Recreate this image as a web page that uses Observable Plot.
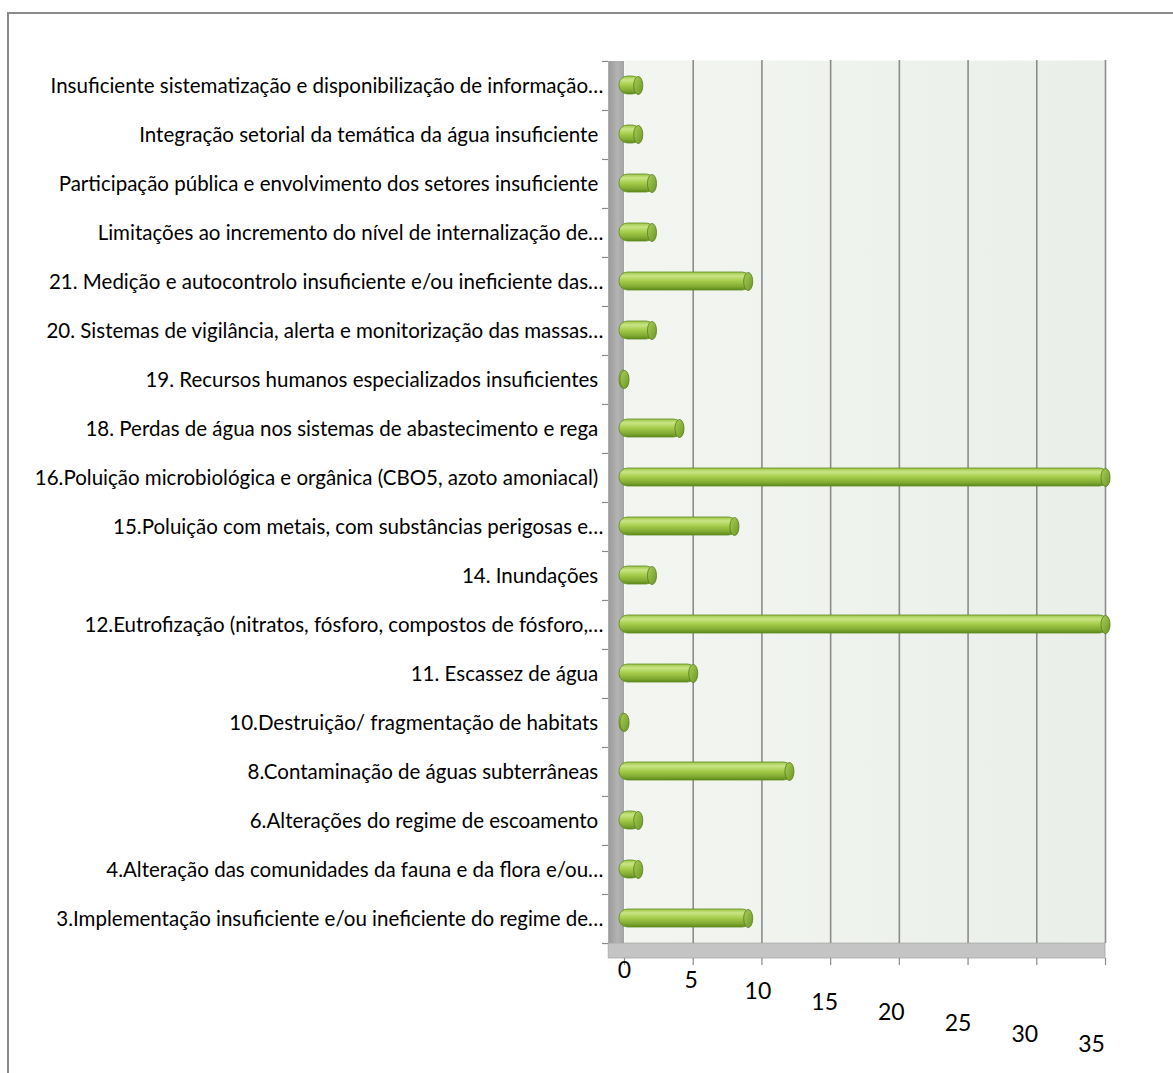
<!DOCTYPE html>
<html>
<head>
<meta charset="utf-8">
<script src="https://cdn.jsdelivr.net/npm/d3@7"></script>
<script src="https://cdn.jsdelivr.net/npm/@observablehq/plot@0.6"></script>
<style>
  html, body { margin: 0; padding: 0; background: #fff; }
  #wrap { position: relative; width: 1173px; height: 1073px; overflow: hidden; }
  #border { position: absolute; left: 7px; top: 12px; width: 1300px; height: 1200px;
            border-left: 2px solid #8a8a8a; border-top: 2px solid #8a8a8a; }
  #chart { position: absolute; left: 0; top: 0; }
  #chart svg text { white-space: pre; }
</style>
</head>
<body>
<div id="wrap">
  <div id="border"></div>
  <div id="chart"></div>
</div>
<script>
const categories = [
  "Insuficiente sistematização e disponibilização de informação…",
  "Integração setorial da temática da água insuficiente ",
  "Participação pública e envolvimento dos setores insuficiente ",
  "Limitações ao incremento do nível de internalização de…",
  "21. Medição e autocontrolo insuficiente e/ou ineficiente das…",
  "20. Sistemas de vigilância, alerta e monitorização das massas…",
  "19. Recursos humanos especializados insuficientes ",
  "18. Perdas de água nos sistemas de abastecimento e rega ",
  "16.Poluição microbiológica e orgânica (CBO5, azoto amoniacal) ",
  "15.Poluição com metais, com substâncias perigosas e…",
  "14. Inundações ",
  "12.Eutrofização (nitratos, fósforo, compostos de fósforo,…",
  "11. Escassez de água ",
  "10.Destruição/ fragmentação de habitats ",
  "8.Contaminação de águas subterrâneas ",
  "6.Alterações do regime de escoamento ",
  "4.Alteração das comunidades da fauna e da flora e/ou…",
  "3.Implementação insuficiente e/ou ineficiente do regime de…"
];
const values = [1, 1, 2, 2, 9, 2, 0, 4, 35, 8, 2, 35, 5, 0, 12, 1, 1, 9];
const xTicks = [0, 5, 10, 15, 20, 25, 30, 35];

const data = categories.map((name, i) => ({name, value: values[i]}));
const lastCat = categories[categories.length - 1];

const marginTop = 60, marginBottom = 130;
const step = (1073 - marginTop - marginBottom) / categories.length;

const ellipse = {
  draw(ctx, size) {
    const r = Math.sqrt(size / Math.PI);
    const rx = r * 0.5, ry = r, k = 0.5523;
    ctx.moveTo(0, -ry);
    ctx.bezierCurveTo(k * rx, -ry, rx, -k * ry, rx, 0);
    ctx.bezierCurveTo(rx, k * ry, k * rx, ry, 0, ry);
    ctx.bezierCurveTo(-k * rx, ry, -rx, k * ry, -rx, 0);
    ctx.bezierCurveTo(-rx, -k * ry, -k * rx, -ry, 0, -ry);
    ctx.closePath();
  }
};

const plot = Plot.plot({
  width: 1173,
  height: 1073,
  marginTop,
  marginBottom,
  marginLeft: 624,
  marginRight: 68,
  style: {fontFamily: "Lato, 'Open Sans', sans-serif", color: "#000", background: "transparent", overflow: "visible"},
  x: {domain: [0, 35], axis: null},
  y: {domain: categories, paddingInner: 0, paddingOuter: 0},
  marks: [
    // back wall
    Plot.frame({fill: "url(#wall)", stroke: "none"}),
    // floor
    Plot.barX([lastCat], {x1: -1.15, x2: 35, y: d => d, insetTop: step, insetBottom: -15, fill: "#c4c4c4", stroke: "#a8a8a8", strokeWidth: 0.8}),
    // vertical gridlines on back wall
    Plot.gridX(xTicks.slice(1), {stroke: "#8c8c8c", strokeOpacity: 1, strokeWidth: 1.6}),
    // side wall
    Plot.barX(categories, {x1: -1.15, x2: 0, y: d => d, fill: "url(#side)"}),
    // category boundary ticks
    Plot.ruleY(categories, {y: d => d, x1: -1.6, x2: -1.15, dy: -step / 2, stroke: "#8a8a8a", strokeWidth: 1.2}),
    Plot.ruleY([lastCat], {y: d => d, x1: -1.6, x2: -1.15, dy: step / 2, stroke: "#8a8a8a", strokeWidth: 1.2}),
    // category labels
    Plot.axisY({tickSize: 0, tickPadding: 21, fontSize: 20.5, label: null, textOverflow: null, lineWidth: Infinity}),
    // cylinders
    Plot.barX(data, {x1: 0, x2: "value", y: "name", fill: "url(#cyl)", stroke: "#5f8a1e", strokeWidth: 0.8,
      rx: 8.5, insetTop: 15, insetBottom: 16, insetLeft: -5, insetRight: -3}),
    Plot.dot(data, {x: "value", y: "name", symbol: ellipse, r: 9, dy: -0.5, fill: "url(#cap)", stroke: "#567a18", strokeWidth: 0.8}),
    // front ticks on floor
    Plot.tickX(xTicks, {x: d => d, y: () => lastCat, insetTop: step + 15, insetBottom: -22, stroke: "#8a8a8a", strokeWidth: 1.2}),
    // x tick labels (descending, as in the perspective original)
    ...xTicks.map(t => Plot.text([t], {x: d => d, text: d => String(d), frameAnchor: "bottom",
      dy: 34 + t * 2.14, dx: -t * 0.4, fontSize: 23, fill: "#000"}))
  ]
});

d3.select(plot).insert("defs", ":first-child").html(`
  <linearGradient id="cyl" x1="0" y1="0" x2="0" y2="1">
    <stop offset="0" stop-color="#9cc446"/>
    <stop offset="0.22" stop-color="#c9e585"/>
    <stop offset="0.5" stop-color="#a5cc4a"/>
    <stop offset="0.8" stop-color="#82ab33"/>
    <stop offset="1" stop-color="#5e8a1c"/>
  </linearGradient>
  <linearGradient id="cap" x1="0" y1="0" x2="1" y2="1">
    <stop offset="0" stop-color="#a9cf56"/>
    <stop offset="1" stop-color="#6c9626"/>
  </linearGradient>
  <linearGradient id="side" x1="0" y1="0" x2="1" y2="0">
    <stop offset="0" stop-color="#9a9a9a"/>
    <stop offset="0.6" stop-color="#b4b4b4"/>
    <stop offset="1" stop-color="#a2a2a2"/>
  </linearGradient>
  <linearGradient id="wall" x1="0" y1="0" x2="1" y2="0">
    <stop offset="0" stop-color="#f2f5f0"/>
    <stop offset="1" stop-color="#ebefe9"/>
  </linearGradient>
`);

document.getElementById("chart").append(plot);
</script>
</body>
</html>
